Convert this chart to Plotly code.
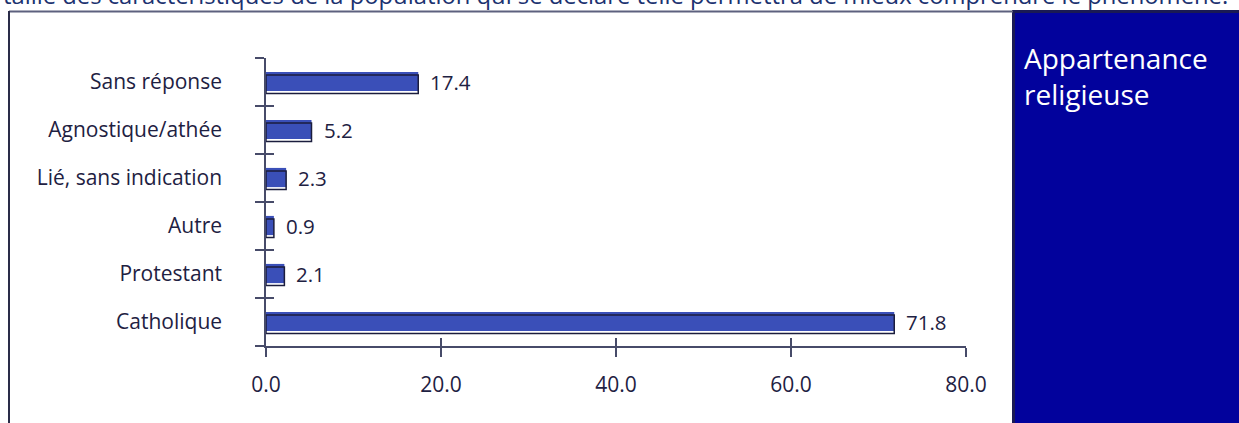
import plotly.graph_objects as go

# Religious affiliation, percent of respondents (bottom to top)
categories = ["Catholique", "Protestant", "Autre", "Lié, sans indication",
              "Agnostique/athée", "Sans réponse"]
values = [71.8, 2.1, 0.9, 2.3, 5.2, 17.4]
x_ticks = [0, 20, 40, 60, 80]
panel_title = ["Appartenance", "religieuse"]
intro_text = ("taille des caractéristiques de la population qui se déclare telle "
              "permettra de mieux comprendre le phénomène.")

W, H = 1239, 423
L, R, T, B = 266, 966, 58, 346  # plot area in pixels

FONT = "Open Sans"
TXT = "#1e2142"
AXIS = "#474b69"
BLUE = "#3a4fb8"
EDGE = "#1b1d3d"
PANEL = "#02029c"


def px(x):
    return (x - L) / (R - L)


def py(y):
    return (B - y) / (B - T)


fig = go.Figure()

# filled bar, slightly raised
fig.add_trace(go.Bar(
    x=values, y=categories, orientation="h",
    offset=-0.19, width=0.40,
    marker=dict(color=BLUE, line=dict(width=0)),
    hoverinfo="skip", showlegend=False,
))
# outline box, slightly lowered, giving the embossed look
fig.add_trace(go.Bar(
    x=values, y=categories, orientation="h",
    offset=-0.24, width=0.385,
    marker=dict(color="rgba(0,0,0,0)", line=dict(color=EDGE, width=1.5)),
    hoverinfo="skip", showlegend=False,
))
# carrier for the overlay axes that draw the inward half of each tick
fig.add_trace(go.Scatter(
    x=[0], y=[categories[0]], xaxis="x2", yaxis="y2",
    mode="markers", marker=dict(opacity=0), hoverinfo="skip", showlegend=False,
))

annotations = []
for c, v in zip(categories, values):
    annotations.append(dict(
        x=v, y=c, xref="x", yref="y", text=f"{v:.1f}", showarrow=False,
        xanchor="left", yanchor="middle", xshift=10,
        font=dict(family=FONT, size=20.5, color=TXT),
    ))

# panel heading, two lines set close together
annotations.append(dict(
    x=px(1022), y=py(37), xref="paper", yref="paper",
    text=panel_title[0] + "<br>" + panel_title[1],
    showarrow=False, xanchor="left", yanchor="top", align="left",
    font=dict(family=FONT, size=28, color="white"),
))
annotations.append(dict(
    x=px(1), y=py(13), xref="paper", yref="paper", text=intro_text,
    showarrow=False, xanchor="left", yanchor="bottom",
    font=dict(family=FONT, size=23.8, color="#1b3270"),
))

shapes = [
    # blue side panel
    dict(type="rect", xref="paper", yref="paper",
         x0=px(1013.5), x1=px(1245), y0=py(11.5), y1=py(430),
         fillcolor=PANEL, line=dict(color="#1a1a55", width=3), layer="above"),
    # frame top and left edges
    dict(type="line", xref="paper", yref="paper",
         x0=px(9), x1=px(1013), y0=py(11.5), y1=py(11.5),
         line=dict(color="#5d617e", width=2)),
    dict(type="line", xref="paper", yref="paper",
         x0=px(9), x1=px(9), y0=py(11), y1=py(430),
         line=dict(color="#2a2c48", width=2)),
]

fig.update_layout(
    width=W, height=H,
    margin=dict(l=L, r=W - R, t=T, b=H - B),
    paper_bgcolor="white", plot_bgcolor="white",
    barmode="overlay",
    showlegend=False,
    annotations=annotations,
    shapes=shapes,
    xaxis=dict(
        range=[0, 80], tickvals=x_ticks, tickformat=".1f",
        ticks="outside", ticklen=9, tickwidth=1.5, tickcolor=AXIS,
        showline=True, linecolor=AXIS, linewidth=1.5,
        showgrid=False, zeroline=False, ticklabelstandoff=10,
        tickfont=dict(family=FONT, size=21, color=TXT),
        fixedrange=True,
    ),
    xaxis2=dict(
        range=[0, 80], tickvals=x_ticks, overlaying="x", anchor="y2", side="bottom",
        ticks="inside", ticklen=8, tickwidth=1.5, tickcolor=AXIS,
        showline=False, showgrid=False, zeroline=False, showticklabels=False,
    ),
    yaxis=dict(
        type="category", categoryorder="array", categoryarray=categories,
        range=[-0.5, len(categories) - 0.5], tickson="boundaries",
        ticks="outside", ticklen=9, tickwidth=1.5, tickcolor=AXIS,
        showline=True, linecolor=AXIS, linewidth=1.5,
        showgrid=False, zeroline=False, ticklabelstandoff=38,
        tickfont=dict(family=FONT, size=21, color=TXT),
        fixedrange=True,
    ),
    yaxis2=dict(
        type="category", categoryorder="array", categoryarray=categories,
        range=[-0.5, len(categories) - 0.5], tickson="boundaries",
        overlaying="y", anchor="x2", side="left",
        ticks="inside", ticklen=8, tickwidth=1.5, tickcolor=AXIS,
        showline=False, showgrid=False, zeroline=False, showticklabels=False,
    ),
)

fig.write_html("out.html", config={"displayModeBar": False})
